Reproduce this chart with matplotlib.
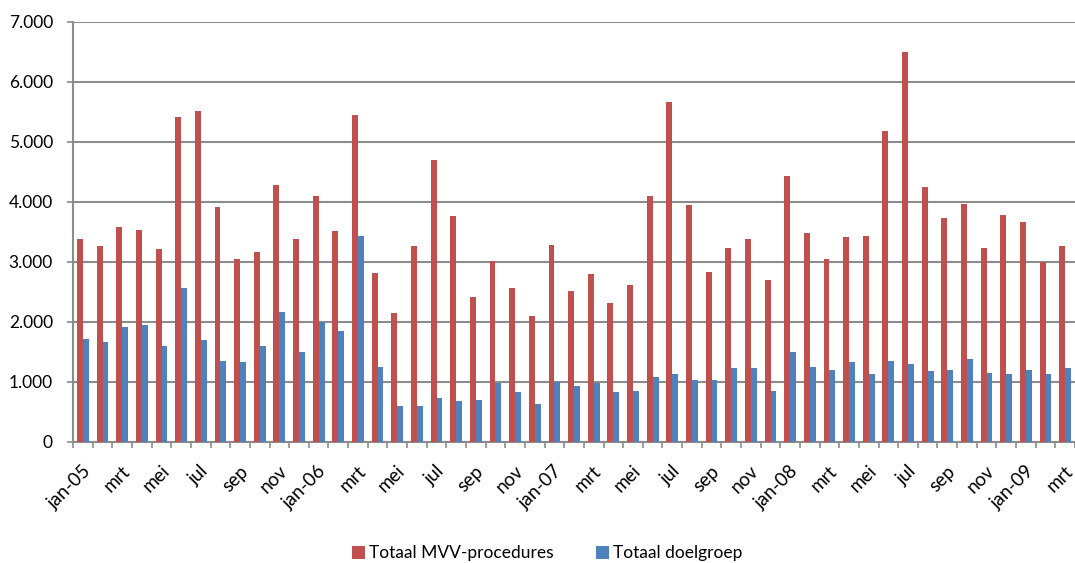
import numpy as np
import matplotlib
matplotlib.use("Agg")
import matplotlib.pyplot as plt
from matplotlib.ticker import FuncFormatter, MultipleLocator

# monthly data jan-05 .. mrt-09
months = ["jan-05", "feb", "mrt", "apr", "mei", "jun", "jul", "aug", "sep", "okt", "nov", "dec",
          "jan-06", "feb", "mrt", "apr", "mei", "jun", "jul", "aug", "sep", "okt", "nov", "dec",
          "jan-07", "feb", "mrt", "apr", "mei", "jun", "jul", "aug", "sep", "okt", "nov", "dec",
          "jan-08", "feb", "mrt", "apr", "mei", "jun", "jul", "aug", "sep", "okt", "nov", "dec",
          "jan-09", "feb", "mrt"]

mvv_procedures = [3390, 3265, 3587, 3537, 3215, 5419, 5519, 3909, 3043, 3159, 4281, 3387,
                  4103, 3515, 5447, 2815, 2149, 3265, 4703, 3759, 2421, 3015, 2571, 2099,
                  3287, 2521, 2793, 2321, 2615, 4103, 5669, 3953, 2837, 3237, 3387, 2693,
                  4431, 3487, 3043, 3415, 3437, 5175, 6491, 4253, 3737, 3959, 3237, 3787,
                  3665, 2993, 3265]

doelgroep = [1721, 1671, 1921, 1949, 1599, 2571, 1699, 1355, 1327, 1599, 2171, 1499,
             1999, 1849, 3437, 1249, 605, 605, 733, 683, 705, 977, 827, 633,
             1005, 927, 977, 827, 855, 1077, 1127, 1027, 1027, 1227, 1227, 855,
             1505, 1255, 1205, 1327, 1127, 1355, 1305, 1177, 1205, 1377, 1155, 1127,
             1205, 1127, 1227]

red = "#C0504D"
blue = "#4F81BD"
grid_col = "#8C8C8C"

plt.rcParams['font.family'] = ['Lato', 'DejaVu Sans']

fig = plt.figure(figsize=(10.75, 5.63), dpi=100)
ax = fig.add_axes([0.068, 0.215, 0.932, 0.746])

x = np.arange(len(months))
w = 0.3
ax.bar(x - w / 2, mvv_procedures, width=w, color=red, label="Totaal MVV-procedures", zorder=3)
ax.bar(x + w / 2, doelgroep, width=w, color=blue, label="Totaal doelgroep", zorder=3)

ax.set_xlim(-0.5, len(months) - 0.5)
ax.set_ylim(0, 7000)
ax.yaxis.set_major_locator(MultipleLocator(1000))
ax.yaxis.set_major_formatter(FuncFormatter(lambda v, p: f"{int(v):,}".replace(",", ".")))
ax.grid(axis='y', color=grid_col, linewidth=1.5, zorder=0)

# category boundary ticks, labels every second month
ax.set_xticks(np.arange(len(months) + 1) - 0.5)
ax.set_xticklabels([])
ax.tick_params(axis='x', length=4.5, width=1.2, color=grid_col)
ax.tick_params(axis='y', length=4.5, width=1.2, color=grid_col, labelsize=12.5, pad=10)
for i in range(0, len(months), 2):
    ax.text(i - 0.05, -340, months[i], rotation=45, ha='right', va='top',
            rotation_mode='anchor', fontsize=13.5)

for side in ['top', 'right']:
    ax.spines[side].set_visible(False)
for side in ['left', 'bottom']:
    ax.spines[side].set_color(grid_col)
    ax.spines[side].set_linewidth(1.5)

fig.legend(loc='lower center', bbox_to_anchor=(0.509, -0.025), ncol=2, frameon=False,
           fontsize=12.5, handlelength=0.75, handleheight=0.75, handletextpad=0.25,
           columnspacing=2.4)

fig.savefig("out.png", dpi=100)
